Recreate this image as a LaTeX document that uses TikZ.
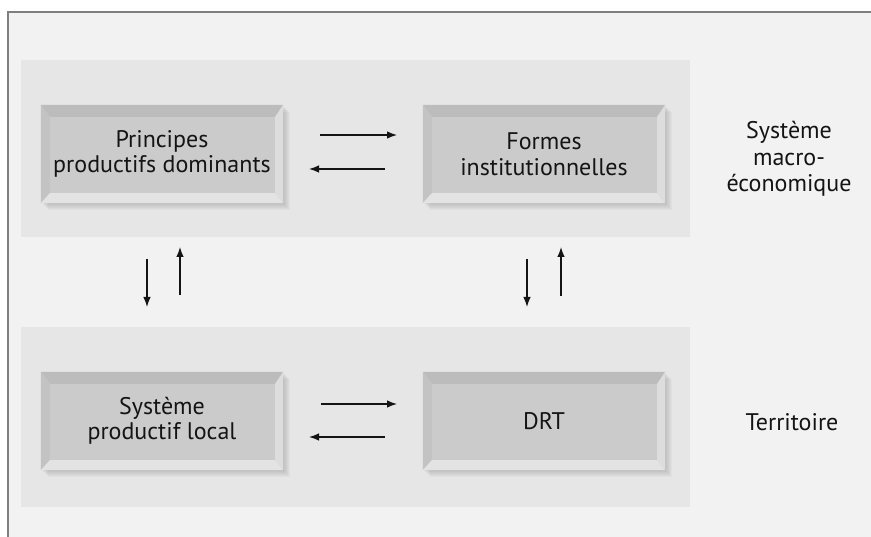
\documentclass[tikz,border=0pt]{standalone}
\usepackage{fontspec}
\setmainfont{PT Sans}
\usetikzlibrary{arrows.meta}
\definecolor{bg}{HTML}{F2F2F2}
\definecolor{band}{HTML}{E6E6E6}
\definecolor{framec}{HTML}{7F7F7F}
\definecolor{face}{HTML}{CBCBCB}
\definecolor{bvtop}{HTML}{BCBCBC}
\definecolor{bvleft}{HTML}{C3C3C3}
\definecolor{bvbot}{HTML}{E3E3E3}
\definecolor{bvright}{HTML}{DDDDDD}
\definecolor{ink}{HTML}{141414}
\pgfdeclarelayer{back}
\pgfdeclarelayer{shade}
\pgfsetlayers{back,shade,main}
\newcommand\bevelbox[1]{%
  \fill[bvtop] (#1.north west) -- (#1.north east) -- ([shift={(-8,12)}]#1.north east) -- ([shift={(9,12)}]#1.north west) -- cycle;
  \fill[bvleft] (#1.north west) -- ([shift={(9,12)}]#1.north west) -- ([shift={(9,-10)}]#1.south west) -- (#1.south west) -- cycle;
  \fill[bvbot] (#1.south west) -- ([shift={(9,-10)}]#1.south west) -- ([shift={(-8,-10)}]#1.south east) -- (#1.south east) -- cycle;
  \fill[bvright] (#1.north east) -- ([shift={(-8,12)}]#1.north east) -- ([shift={(-8,-10)}]#1.south east) -- (#1.south east) -- cycle;
  \begin{pgfonlayer}{shade}
    \foreach \d in {1,2,...,7} {
      \fill[black, opacity=0.025] ([shift={(\d,\d)}]#1.north west) rectangle ([shift={(\d,\d)}]#1.south east);
    }
  \end{pgfonlayer}
}
\begin{document}
\begin{tikzpicture}[x=1pt,y=-1pt,
  box/.style={fill=face, minimum width=242pt, minimum height=98pt, inner sep=0pt,
    align=center, font=\fontsize{24}{25.5}\selectfont, text=ink},
  side/.style={align=center, font=\fontsize{24}{26.5}\selectfont, text=ink},
  flow/.style={draw=ink, line width=1.3pt, -{Latex[length=10pt,width=7.5pt]}},
]
\useasboundingbox (0,0) rectangle (871,537);
\begin{pgfonlayer}{back}
  \fill[white] (0,0) rectangle (871,537);
  \fill[bg] (8,12) rectangle (871,537);
  \draw[framec, line width=1.5pt] (8,537) -- (8,12) -- (871,12);
  \fill[band] (21,60) rectangle (690,237);
  \fill[band] (21,327) rectangle (690,507);
\end{pgfonlayer}

\node[box] (pp) at (162,154) {Principes\\productifs dominants};
\node[box] (fi) at (544,154) {Formes\\institutionnelles};
\node[box] (spl) at (162,421) {Système\\productif local};
\node[box] (drt) at (544,421) {DRT};
\bevelbox{pp}\bevelbox{fi}\bevelbox{spl}\bevelbox{drt}

\node[side] (macro) at (789,159) {Système\\macro-\\économique};
\node[side] (terr) at (792,422) {Territoire};

% horizontal arrows, top
\coordinate (a1s) at (320,135); \coordinate (a1e) at (397,135);
\coordinate (a2s) at (385,169); \coordinate (a2e) at (309,169);
\draw[flow] (a1s) -- (a1e);
\draw[flow] (a2s) -- (a2e);
% horizontal arrows, bottom
\coordinate (b1s) at (321,404); \coordinate (b1e) at (397,404);
\coordinate (b2s) at (385,437); \coordinate (b2e) at (309,437);
\draw[flow] (b1s) -- (b1e);
\draw[flow] (b2s) -- (b2e);
% vertical arrows, left
\coordinate (c1s) at (147,259); \coordinate (c1e) at (147,307);
\coordinate (c2s) at (180,295); \coordinate (c2e) at (180,247);
\draw[flow] (c1s) -- (c1e);
\draw[flow] (c2s) -- (c2e);
% vertical arrows, right
\coordinate (d1s) at (527,259); \coordinate (d1e) at (527,307);
\coordinate (d2s) at (561,296); \coordinate (d2e) at (561,247);
\draw[flow] (d1s) -- (d1e);
\draw[flow] (d2s) -- (d2e);
\end{tikzpicture}
\end{document}
